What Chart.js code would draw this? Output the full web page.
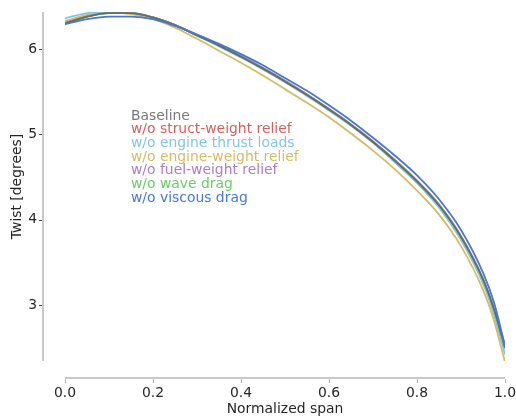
<!DOCTYPE html>
<html>
<head>
<meta charset="utf-8">
<script src="https://cdn.jsdelivr.net/npm/chart.js@4"></script>
<style>
  html, body { margin: 0; padding: 0; background: #ffffff; }
  #wrap { width: 516px; height: 416px; }
</style>
</head>
<body>
<div id="wrap"><canvas id="c" width="516" height="416"></canvas></div>
<script>
const span = [0, 0.05, 0.1, 0.15, 0.2, 0.25, 0.3, 0.35, 0.4, 0.45, 0.5, 0.55, 0.6, 0.65, 0.7, 0.75, 0.8, 0.85, 0.9, 0.95, 0.975, 1.0];

const seriesNames = ["Baseline", "w/o struct-weight relief", "w/o engine thrust loads", "w/o engine-weight relief", "w/o fuel-weight relief", "w/o wave drag", "w/o viscous drag"];
const seriesColors = ["#797979", "#d65f5f", "#82c6e2", "#d5bb67", "#b07cc6", "#6acc64", "#4878d0"];
const lineColors   = ["#6a6a6a", "#d65f5f", "#82c6e2", "#d5bb67", "#b07cc6", "#6acc64", "#4878d0"];
// drawing order (lower = drawn later / on top)
const drawOrder = [1, 6, 4, 5, 3, 2, 0];

const baseline      = [6.30, 6.38, 6.42, 6.42, 6.37, 6.28, 6.16, 6.04, 5.91, 5.77, 5.62, 5.46, 5.29, 5.11, 4.91, 4.69, 4.45, 4.17, 3.80, 3.30, 2.95, 2.50];
const noStruct      = [6.31, 6.39, 6.43, 6.42, 6.37, 6.28, 6.16, 6.04, 5.91, 5.77, 5.62, 5.46, 5.29, 5.11, 4.91, 4.69, 4.45, 4.17, 3.79, 3.29, 2.94, 2.49];
const noThrust      = [6.36, 6.42, 6.44, 6.43, 6.37, 6.28, 6.16, 6.03, 5.90, 5.76, 5.61, 5.45, 5.28, 5.10, 4.90, 4.67, 4.43, 4.14, 3.76, 3.25, 2.89, 2.42];
const noEngineWt    = [6.33, 6.40, 6.43, 6.41, 6.35, 6.25, 6.12, 5.98, 5.84, 5.69, 5.53, 5.37, 5.20, 5.01, 4.81, 4.59, 4.34, 4.06, 3.69, 3.18, 2.82, 2.33];
const noFuel        = [6.30, 6.38, 6.42, 6.42, 6.37, 6.28, 6.17, 6.05, 5.92, 5.78, 5.63, 5.47, 5.30, 5.12, 4.92, 4.70, 4.46, 4.18, 3.81, 3.31, 2.96, 2.53];
const noWave        = [6.30, 6.38, 6.42, 6.42, 6.37, 6.28, 6.16, 6.04, 5.91, 5.77, 5.62, 5.46, 5.29, 5.11, 4.91, 4.69, 4.45, 4.17, 3.80, 3.30, 2.95, 2.50];
const noViscous     = [6.29, 6.35, 6.38, 6.38, 6.35, 6.27, 6.17, 6.06, 5.94, 5.81, 5.66, 5.51, 5.34, 5.16, 4.96, 4.75, 4.52, 4.24, 3.88, 3.38, 3.03, 2.52];

const seriesValues = [baseline, noStruct, noThrust, noEngineWt, noFuel, noWave, noViscous];

const xTickValues = [0, 0.2, 0.4, 0.6, 0.8, 1.0];
const yTickValues = [3, 4, 5, 6];
const xTitle = "Normalized span";
const yTitle = "Twist [degrees]";

const FONT = "'DejaVu Sans', sans-serif";
const FS = 13.9;
const SPINE = "#b8b8b8";
const TICKCOL = "#404040";

const datasets = seriesValues.map((vals, i) => ({
  label: seriesNames[i],
  data: span.map((x, j) => ({ x: x, y: vals[j] })),
  borderColor: lineColors[i],
  backgroundColor: lineColors[i],
  borderWidth: 1.8,
  pointRadius: 0,
  fill: false,
  cubicInterpolationMode: 'monotone',
  order: drawOrder[i]
}));

function zeroPad(s) { s.paddingLeft = 0; s.paddingRight = 0; s.paddingTop = 0; s.paddingBottom = 0; }

const decor = {
  id: 'decor',
  afterDraw(chart) {
    const ctx = chart.ctx;
    const xs = chart.scales.x, ys = chart.scales.y;
    const ca = chart.chartArea;
    const spineX = ca.left - 22;
    const spineY = ca.bottom + 17;
    ctx.save();
    ctx.strokeStyle = SPINE;
    ctx.lineWidth = 1.5;
    ctx.beginPath();
    ctx.moveTo(spineX, ca.top);
    ctx.lineTo(spineX, ca.bottom);
    ctx.moveTo(xs.getPixelForValue(0), spineY);
    ctx.lineTo(xs.getPixelForValue(1), spineY);
    ctx.stroke();
    ctx.lineWidth = 1;
    ctx.strokeStyle = TICKCOL;
    ctx.beginPath();
    yTickValues.forEach(v => {
      const py = Math.round(ys.getPixelForValue(v)) + 0.5;
      ctx.moveTo(spineX - 4, py);
      ctx.lineTo(spineX - 1, py);
    });
    ctx.stroke();
    ctx.strokeStyle = SPINE;
    ctx.beginPath();
    xTickValues.forEach(v => {
      const px = Math.round(xs.getPixelForValue(v)) + 0.5;
      ctx.moveTo(px, spineY + 1);
      ctx.lineTo(px, spineY + 5);
    });
    ctx.stroke();
    // legend text
    ctx.font = FS + "px " + FONT;
    ctx.textAlign = 'left';
    ctx.textBaseline = 'middle';
    seriesNames.forEach((n, i) => {
      ctx.fillStyle = seriesColors[i];
      ctx.fillText(n, 131, 116 + i * 13.7);
    });
    ctx.restore();
  }
};

new Chart(document.getElementById('c'), {
  type: 'line',
  data: { datasets: datasets },
  options: {
    responsive: false,
    animation: false,
    layout: { padding: { top: 12, right: 11, left: 0, bottom: 0 } },
    plugins: { legend: { display: false }, tooltip: { enabled: false } },
    scales: {
      x: {
        type: 'linear',
        min: 0, max: 1,
        afterBuildTicks(s) { s.ticks = xTickValues.map(v => ({ value: v })); },
        afterFit(s) { s.height = 55; zeroPad(s); },
        grid: { display: false, drawTicks: false },
        border: { display: false },
        ticks: { color: '#262626', font: { family: FONT, size: FS }, padding: 24, maxRotation: 0,
                 callback: v => Number(v).toFixed(1) },
        title: { display: true, text: xTitle, color: '#262626', font: { family: FONT, size: FS }, padding: { top: 0, bottom: -2 } }
      },
      y: {
        type: 'linear',
        min: 2.344, max: 6.434,
        afterBuildTicks(s) { s.ticks = yTickValues.map(v => ({ value: v })); },
        afterFit(s) { s.width = 65; zeroPad(s); },
        grid: { display: false, drawTicks: false },
        border: { display: false },
        ticks: { color: '#262626', font: { family: FONT, size: FS }, padding: 28,
                 callback: v => String(v) },
        title: { display: true, text: yTitle, color: '#262626', font: { family: FONT, size: FS }, padding: { top: 9, bottom: 0 } }
      }
    }
  },
  plugins: [decor]
});
</script>
</body>
</html>
